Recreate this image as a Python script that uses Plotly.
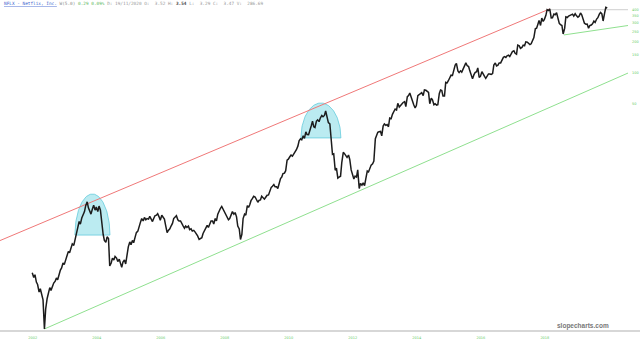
import numpy as np
import pandas as pd
import plotly.graph_objects as go

# ---------------- data (semi-monthly closes, split adjusted) ----------------
close_2002 = [1.17, 1.05, 1.12, 0.95, 0.90, 0.76, 0.82, 0.70, 0.64, 0.335, 0.52, 0.66, 0.74, 0.84, 0.79]
close_2003 = [0.88, 0.93, 0.97, 1.04, 1.00, 1.13, 1.24, 1.30, 1.45, 1.40, 1.58, 1.72,
              1.88, 1.82, 2.08, 2.22, 2.15, 2.48, 2.85, 3.15, 3.65, 3.45, 3.95, 4.25]
close_2004 = [4.55, 5.20, 5.65, 4.95, 4.50, 4.30, 4.85, 5.25, 4.70, 5.05, 4.55, 5.15,
              4.70, 3.55, 2.75, 2.40, 2.30, 2.60, 2.50, 1.36, 1.45, 1.62, 1.55, 1.68]
close_2005 = [1.62, 1.50, 1.58, 1.44, 1.32, 1.48, 1.55, 1.42, 1.78, 2.08, 2.32, 2.18,
              2.40, 2.28, 2.58, 2.85, 2.95, 3.30, 3.60, 3.90, 3.70, 4.00, 3.80, 3.90]
close_2006 = [3.85, 4.10, 3.80, 3.65, 3.90, 4.15, 4.20, 4.35, 4.05, 3.75, 4.20, 4.00,
              3.85, 3.35, 2.85, 3.00, 3.10, 3.30, 3.50, 3.90, 4.00, 4.15, 3.80, 3.70]
close_2007 = [3.70, 3.45, 3.30, 3.15, 3.30, 3.20, 3.30, 3.05, 3.10, 2.95, 3.00, 2.90,
              2.80, 2.65, 2.45, 2.50, 2.55, 2.80, 2.95, 3.15, 3.35, 3.20, 3.45, 3.70]
close_2008 = [3.70, 3.45, 3.90, 3.70, 4.30, 4.60, 4.90, 5.10, 4.80, 4.50, 4.30, 4.00,
              3.80, 3.90, 4.30, 4.55, 4.30, 4.45, 4.05, 3.30, 3.10, 2.45, 2.75, 3.90]
close_2009 = [4.30, 4.20, 5.20, 5.00, 5.30, 5.80, 6.10, 6.40, 6.30, 5.90, 5.60, 5.85,
              5.90, 6.40, 6.10, 6.00, 6.30, 6.55, 6.60, 7.20, 7.80, 8.00, 8.30, 7.90]
close_2010 = [7.90, 7.60, 9.00, 9.50, 9.80, 10.60, 10.70, 11.30, 14.30, 14.60, 15.40, 16.00,
              15.60, 16.30, 16.80, 18.00, 19.50, 22.00, 23.00, 22.50, 24.50, 23.20, 26.80, 25.20]
close_2011 = [25.10, 27.00, 30.70, 34.00, 30.00, 29.50, 34.00, 35.00, 33.60, 36.40, 38.60, 37.50,
              38.60, 42.60, 37.10, 32.90, 32.00, 24.00, 16.20, 16.40, 11.40, 12.00, 9.60, 9.80]
close_2012 = [10.00, 13.50, 17.00, 16.50, 16.00, 15.20, 16.00, 14.50, 11.50, 10.20, 9.40, 10.00,
              9.80, 11.50, 7.60, 8.50, 8.20, 8.60, 8.10, 9.40, 11.20, 11.00, 11.90, 12.80]
close_2013 = [13.20, 14.00, 23.00, 25.50, 26.50, 26.80, 27.00, 24.50, 30.50, 32.00, 31.00, 31.50,
              30.00, 36.50, 36.00, 39.50, 41.50, 44.50, 43.50, 50.50, 46.50, 48.50, 50.70, 51.50]
close_2014 = [52.50, 47.00, 58.50, 60.00, 63.50, 58.00, 51.00, 49.00, 45.50, 48.00, 60.00, 61.50,
              63.00, 64.00, 60.00, 68.00, 67.50, 66.00, 64.50, 50.00, 56.50, 54.50, 49.00, 50.00]
close_2015 = [48.50, 49.00, 63.00, 68.00, 67.00, 59.50, 59.50, 80.50, 79.50, 83.50, 89.50, 94.50,
              94.00, 108.00, 118.00, 123.00, 104.00, 100.00, 104.00, 101.00, 108.00, 113.00, 124.00, 117.00]
close_2016 = [114.50, 104.00, 94.00, 87.00, 95.00, 100.00, 102.00, 111.00, 90.00, 92.00, 102.00, 96.00,
              92.00, 88.00, 92.00, 97.00, 97.00, 96.00, 98.00, 118.50, 124.00, 116.00, 118.00, 124.00]
close_2017 = [124.00, 133.50, 140.50, 142.50, 140.00, 145.50, 147.50, 143.00, 152.50, 159.50, 162.50, 153.50,
              150.50, 184.00, 181.00, 171.50, 175.00, 184.00, 181.50, 198.00, 196.50, 193.50, 186.50, 189.50]
close_2018 = [201.00, 218.00, 265.50, 268.00, 292.00, 318.00, 285.00, 336.00, 312.50, 326.50, 357.50, 405.00,
              398.00, 412.00, 337.00, 338.00, 367.50, 362.00, 378.00, 333.00, 299.00, 290.00, 285.00, 236.00]
close_2019 = [267.00, 345.00, 340.00, 351.00, 358.00, 361.00, 367.00, 351.00, 370.00, 355.00, 343.00, 350.50,
              376.00, 362.00, 319.00, 300.00, 293.00, 294.00, 268.00, 284.00, 288.00, 296.00, 314.00, 305.00]
close_2020 = [329.00, 339.00, 367.00, 381.00, 369.00, 315.00, 375.00, 426.00, 420.00]

closes = (close_2002 + close_2003 + close_2004 + close_2005 + close_2006 + close_2007 + close_2008
          + close_2009 + close_2010 + close_2011 + close_2012 + close_2013 + close_2014 + close_2015
          + close_2016 + close_2017 + close_2018 + close_2019 + close_2020)
dates = pd.date_range("2002-05-15", "2020-05-01", freq="SMS")
n = min(len(dates), len(closes))
dates, closes = dates[:n], closes[:n]

x_tick_labels = ["2002", "2004", "2006", "2008", "2010", "2012", "2014", "2016", "2018"]
x_tick_dates = [f"{y}-05-20" for y in range(2002, 2019, 2)]
y_tick_values = [50, 100, 150, 200, 250, 300, 350, 400]

# trend lines (date, price)
red_dates, red_prices = ["2001-05-12", "2018-07-15"], [2.39, 412.0]
green_dates, green_prices = ["2002-10-01", "2020-12-24"], [0.335, 99.0]
green2_dates, green2_prices = ["2018-12-24", "2020-12-24"], [231.0, 285.0]
flat_dates, flat_prices = ["2018-07-15", "2020-12-24"], [405.0, 405.0]

# highlight domes
dome_centers = ["2004-04-01", "2011-05-22"]
dome_half_days = [200, 228]
dome_base = [2.70, 23.4]
dome_top = [6.73, 50.9]


def dome(center, half_days, base, top, npts=80):
    t = np.linspace(0, np.pi, npts)
    c = pd.Timestamp(center)
    xs = [c + pd.Timedelta(days=float(half_days * np.cos(a))) for a in t]
    lb, lt = np.log10(base), np.log10(top)
    ys = 10 ** (lb + (lt - lb) * np.sin(t))
    return xs + [xs[0]], list(ys) + [ys[0]]


fig = go.Figure()

for c, h, b, t in zip(dome_centers, dome_half_days, dome_base, dome_top):
    dx, dy = dome(c, h, b, t)
    fig.add_trace(go.Scatter(x=dx, y=dy, mode="lines", fill="toself",
                             fillcolor="rgba(120,215,228,0.5)",
                             line=dict(color="rgba(80,195,215,0.85)", width=0.8),
                             hoverinfo="skip"))

fig.add_trace(go.Scatter(x=red_dates, y=red_prices, mode="lines",
                         line=dict(color="#f07878", width=1), hoverinfo="skip"))
fig.add_trace(go.Scatter(x=green_dates, y=green_prices, mode="lines",
                         line=dict(color="#8fe08f", width=1), hoverinfo="skip"))
fig.add_trace(go.Scatter(x=green2_dates, y=green2_prices, mode="lines",
                         line=dict(color="#8fe08f", width=1), hoverinfo="skip"))
fig.add_trace(go.Scatter(x=flat_dates, y=flat_prices, mode="lines",
                         line=dict(color="#d8d8d8", width=1.2), hoverinfo="skip"))

fig.add_trace(go.Scatter(x=dates, y=closes, mode="lines",
                         line=dict(color="#1c1c1c", width=1.5), hoverinfo="skip"))

fig.update_layout(
    width=640, height=343,
    margin=dict(l=0, r=12, t=0, b=12),
    paper_bgcolor="white", plot_bgcolor="white",
    showlegend=False,
    xaxis=dict(type="date", range=["2001-05-12", "2020-12-24"],
               showgrid=False, zeroline=False, showline=False,
               tickvals=x_tick_dates, ticktext=x_tick_labels, ticks="",
               tickfont=dict(size=3.5, color="#66cc66", family="DejaVu Sans"),
               ticklabelstandoff=3, automargin=False),
    yaxis=dict(type="log", range=[-0.4946, 2.701], side="right",
               showgrid=False, zeroline=False, showline=False,
               tickvals=y_tick_values, ticktext=[str(v) for v in y_tick_values], ticks="",
               tickfont=dict(size=3.5, color="#66cc66", family="DejaVu Sans"),
               ticklabelstandoff=3, automargin=False),
    shapes=[dict(type="line", xref="paper", yref="paper", x0=0, x1=1.02, y0=0, y1=0,
                 line=dict(color="#b0b0b0", width=1.2))],
)

header = ("<span style='color:#3a5fcd;text-decoration:underline'>NFLX - Netflix, Inc.</span>"
          " <span style='color:#888'>W(5.0)</span>"
          " <span style='color:#5cb85c'>0.29 0.09%</span>"
          " <span style='color:#999'>D: 19/11/2020 O:  3.52 H:</span>"
          " <span style='color:#444'><b>3.54</b></span>"
          " <span style='color:#999'>L:  3.29 C:  3.47 V:  286.69</span>")
fig.add_annotation(text=header, xref="paper", yref="paper", x=0.003, y=0.988,
                   xanchor="left", yanchor="middle", showarrow=False,
                   font=dict(family="DejaVu Sans Mono", size=4.4, color="#888"))
fig.add_annotation(text="<b>slopecharts.com</b>", xref="paper", yref="paper",
                   x=0.928, y=0.016, xanchor="center", yanchor="middle", showarrow=False,
                   font=dict(family="Liberation Sans", size=6.5, color="#777"))

fig.write_html("out.html")
